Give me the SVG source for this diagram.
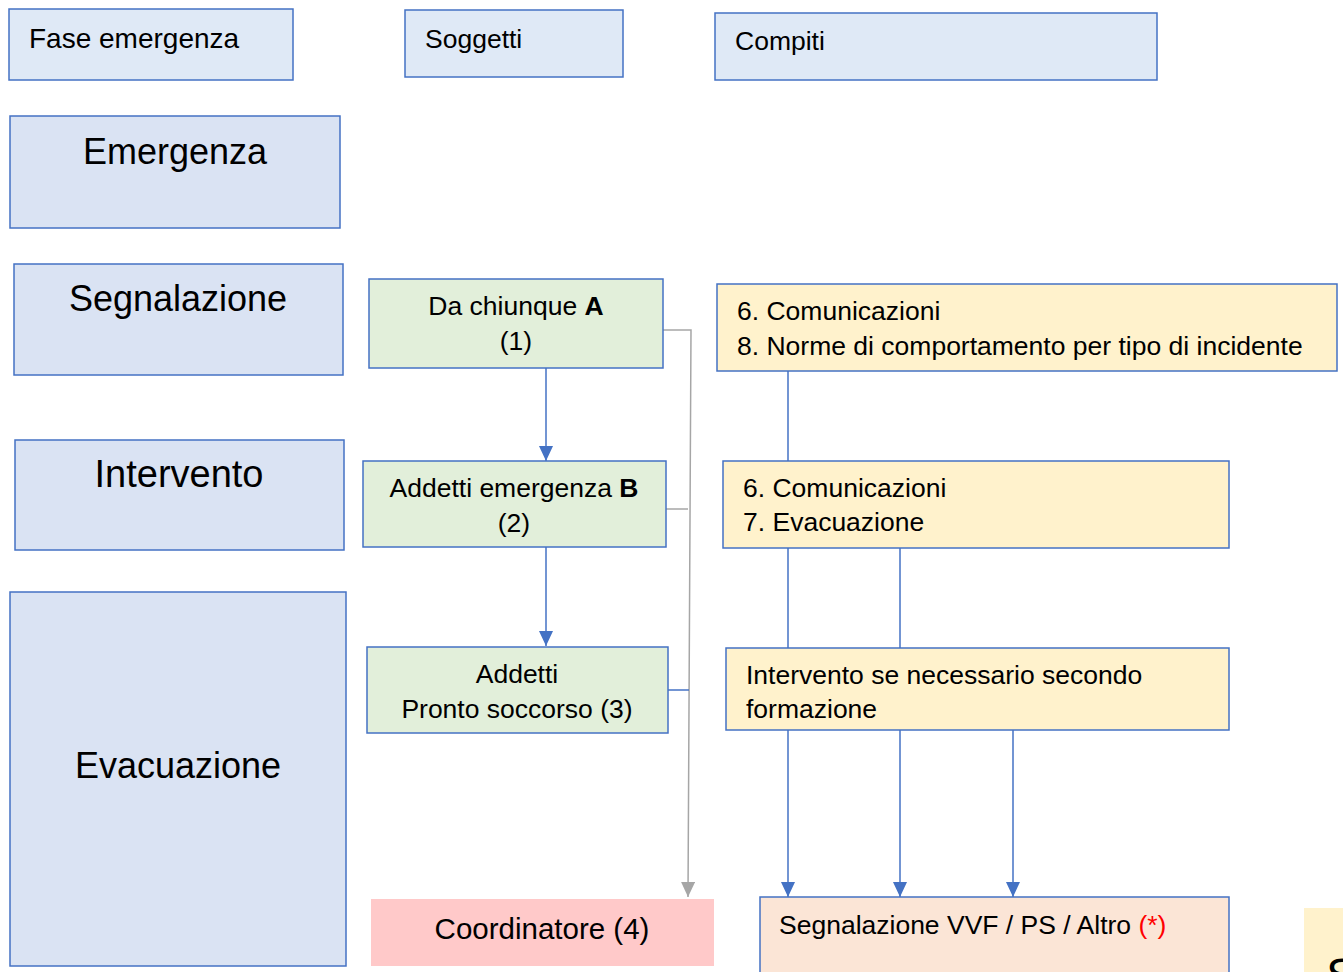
<svg xmlns="http://www.w3.org/2000/svg" width="1343" height="972" viewBox="0 0 1343 972">
<style>
text{font-family:"Liberation Sans",Arial,sans-serif;fill:#000}
.hdr{fill:#dfe9f6;stroke:#4472c4;stroke-width:1.5}
.phase{fill:#dae3f3;stroke:#4472c4;stroke-width:1.5}
.green{fill:#e2efda;stroke:#4472c4;stroke-width:1.5}
.yellow{fill:#fff2cc;stroke:#4472c4;stroke-width:1.5}
.peach{fill:#fbe5d6;stroke:#4472c4;stroke-width:1.5}
.pink{fill:#ffc9c9}
.t26{font-size:26.5px}
.big{font-size:36px;text-anchor:middle}
.mid{text-anchor:middle}
.blue{stroke:#4472c4;stroke-width:1.5;fill:none}
.gray{stroke:#a6a6a6;stroke-width:1.5;fill:none}
</style>
<defs>
<marker id="ab" viewBox="0 0 10 10" refX="10" refY="5" markerWidth="15" markerHeight="14" markerUnits="userSpaceOnUse" orient="auto" preserveAspectRatio="none"><path d="M0,0L10,5L0,10Z" fill="#4472c4"/></marker>
<marker id="ag" viewBox="0 0 10 10" refX="10" refY="5" markerWidth="15" markerHeight="14" markerUnits="userSpaceOnUse" orient="auto" preserveAspectRatio="none"><path d="M0,0L10,5L0,10Z" fill="#a6a6a6"/></marker>
</defs>
<g id="connectors">
<line class="blue" x1="546" y1="368" x2="546" y2="461" marker-end="url(#ab)"/>
<line class="blue" x1="546" y1="547" x2="546" y2="646" marker-end="url(#ab)"/>
<polyline class="gray" points="663,330 691,330 688,897" marker-end="url(#ag)"/>
<line class="gray" x1="666" y1="509" x2="688" y2="509"/>
<line class="blue" x1="668" y1="690" x2="689" y2="690"/>
<line class="blue" x1="788" y1="371" x2="788" y2="461"/>
<line class="blue" x1="788" y1="548" x2="788" y2="648"/>
<line class="blue" x1="900" y1="548" x2="900" y2="648"/>
<line class="blue" x1="788" y1="730" x2="788" y2="897" marker-end="url(#ab)"/>
<line class="blue" x1="900" y1="730" x2="900" y2="897" marker-end="url(#ab)"/>
<line class="blue" x1="1013" y1="726" x2="1013" y2="897" marker-end="url(#ab)"/>
</g>
<g id="hdr-fase"><rect class="hdr" x="9" y="9" width="284" height="71"/><text style="font-size:28px" x="29" y="48">Fase emergenza</text></g>
<g id="hdr-soggetti"><rect class="hdr" x="405" y="10" width="218" height="67"/><text class="t26" x="425" y="48">Soggetti</text></g>
<g id="hdr-compiti"><rect class="hdr" x="715" y="13" width="442" height="67"/><text class="t26" x="735" y="50">Compiti</text></g>
<g id="ph-emergenza"><rect class="phase" x="10" y="116" width="330" height="112"/><text class="big" x="175" y="164">Emergenza</text></g>
<g id="ph-segnalazione"><rect class="phase" x="14" y="264" width="329" height="111"/><text class="big" x="178" y="311">Segnalazione</text></g>
<g id="ph-intervento"><rect class="phase" x="15" y="440" width="329" height="110"/><text class="big" style="font-size:38px" x="179" y="487">Intervento</text></g>
<g id="ph-evacuazione"><rect class="phase" x="10" y="592" width="336" height="374"/><text class="big" x="178" y="778">Evacuazione</text></g>
<g id="s-chiunque"><rect class="green" x="369" y="279" width="294" height="89"/><text class="t26 mid" x="516" y="315">Da chiunque <tspan font-weight="bold">A</tspan></text><text class="t26 mid" x="516" y="350">(1)</text></g>
<g id="s-addetti-em"><rect class="green" x="363" y="461" width="303" height="86"/><text class="t26 mid" x="514" y="497">Addetti emergenza <tspan font-weight="bold">B</tspan></text><text class="t26 mid" x="514" y="532">(2)</text></g>
<g id="s-addetti-ps"><rect class="green" x="367" y="647" width="301" height="86"/><text class="t26 mid" x="517" y="683">Addetti</text><text class="t26 mid" x="517" y="718">Pronto soccorso (3)</text></g>
<g id="s-coordinatore"><rect class="pink" x="371" y="899" width="343" height="67"/><text class="mid" style="font-size:29.5px" x="542" y="939">Coordinatore (4)</text></g>
<g id="c-segnalazione"><rect class="yellow" x="717" y="284" width="620" height="87"/><text class="t26" x="737" y="320">6. Comunicazioni</text><text class="t26" x="737" y="355">8. Norme di comportamento per tipo di incidente</text></g>
<g id="c-intervento"><rect class="yellow" x="723" y="461" width="506" height="87"/><text class="t26" x="743" y="497">6. Comunicazioni</text><text class="t26" x="743" y="531">7. Evacuazione</text></g>
<g id="c-evacuazione"><rect class="yellow" x="726" y="648" width="503" height="82"/><text class="t26" x="746" y="684">Intervento se necessario secondo</text><text class="t26" x="746" y="718">formazione</text></g>
<g id="c-vvf"><rect class="peach" x="760" y="897" width="469" height="90"/><text class="t26" x="779" y="934">Segnalazione VVF / PS / Altro <tspan fill="#ff0000">(*)</tspan></text></g>
<g id="partial"><rect x="1304" y="908" width="50" height="70" fill="#fff2cc"/><text x="1326" y="992" style="font-size:48px">S</text></g>
</svg>
